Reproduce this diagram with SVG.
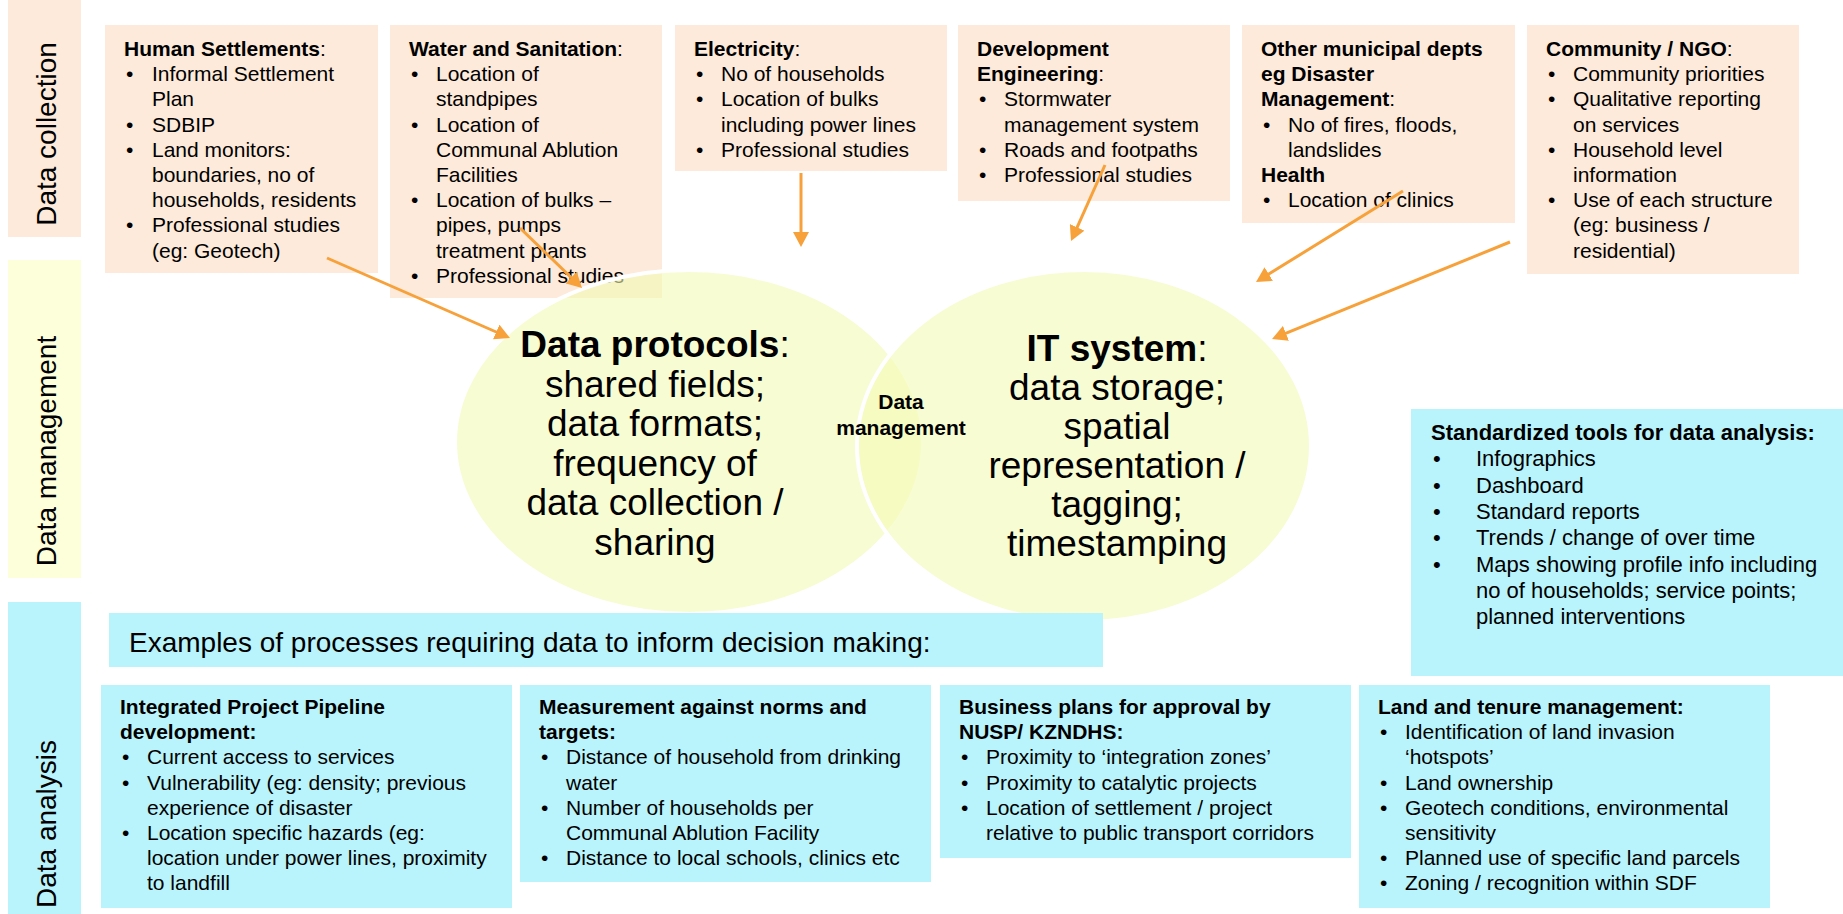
<svg xmlns="http://www.w3.org/2000/svg" width="1843" height="914" viewBox="0 0 1843 914">
  <defs>
    <style>
      text { font-family: "Liberation Sans", Arial, Helvetica, sans-serif; fill: #000; }
      .t { font-size: 21px; }
      .ts { font-size: 22px; }
      .b { font-weight: bold; }
      .side { font-size: 28px; text-anchor: middle; }
      .big { font-size: 37px; text-anchor: middle; }
      .peach { fill: #FDEADA; }
      .cyan { fill: #B9F4FC; }
      .band-yellow { fill: #FDFEDA; }
      .bubble { fill: #F4FAB5; fill-opacity: 0.6; stroke: #FFFFFF; stroke-width: 4; }
      .flow { fill: none; stroke: #F7A13A; stroke-width: 3; marker-end: url(#arrow); }
    </style>
    <marker id="arrow" markerUnits="userSpaceOnUse" markerWidth="16" markerHeight="16" refX="5" refY="8" orient="auto">
      <path d="M0,0 L15,8 L0,16 Z" fill="#F7A13A"/>
    </marker>
  </defs>

  <rect width="1843" height="914" fill="#FFFFFF"/>

  <!-- Stage bands on the left -->
  <g id="band-collection">
    <rect class="peach" x="8" y="0" width="73" height="237"/>
    <text class="side" transform="translate(56,134) rotate(-90)">Data collection</text>
  </g>
  <g id="band-management">
    <rect class="band-yellow" x="8" y="260" width="73" height="318"/>
    <text class="side" transform="translate(56,451) rotate(-90)">Data management</text>
  </g>
  <g id="band-analysis">
    <rect class="cyan" x="8" y="602" width="73" height="312"/>
    <text class="side" transform="translate(56,824) rotate(-90)">Data analysis</text>
  </g>

  <!-- Data sources -->
  <g id="src-human-settlements" class="t">
    <rect class="peach" x="105" y="25" width="273" height="248"/>
    <text x="124" y="56"><tspan class="b">Human Settlements</tspan>:</text>
    <text x="126" y="81.2">•</text><text x="152" y="81.2">Informal Settlement</text>
    <text x="152" y="106.4">Plan</text>
    <text x="126" y="131.6">•</text><text x="152" y="131.6">SDBIP</text>
    <text x="126" y="156.8">•</text><text x="152" y="156.8">Land monitors:</text>
    <text x="152" y="182">boundaries, no of</text>
    <text x="152" y="207.2">households, residents</text>
    <text x="126" y="232.4">•</text><text x="152" y="232.4">Professional studies</text>
    <text x="152" y="257.6">(eg: Geotech)</text>
  </g>

  <g id="src-water-sanitation" class="t">
    <rect class="peach" x="390" y="25" width="272" height="273"/>
    <text x="409" y="56"><tspan class="b">Water and Sanitation</tspan>:</text>
    <text x="411" y="81.2">•</text><text x="436" y="81.2">Location of</text>
    <text x="436" y="106.4">standpipes</text>
    <text x="411" y="131.6">•</text><text x="436" y="131.6">Location of</text>
    <text x="436" y="156.8">Communal Ablution</text>
    <text x="436" y="182">Facilities</text>
    <text x="411" y="207.2">•</text><text x="436" y="207.2">Location of bulks –</text>
    <text x="436" y="232.4">pipes, pumps</text>
    <text x="436" y="257.6">treatment plants</text>
    <text x="411" y="282.8">•</text><text x="436" y="282.8">Professional studies</text>
  </g>

  <g id="src-electricity" class="t">
    <rect class="peach" x="675" y="25" width="272" height="146"/>
    <text x="694" y="56"><tspan class="b">Electricity</tspan>:</text>
    <text x="696" y="81.2">•</text><text x="721" y="81.2">No of households</text>
    <text x="696" y="106.4">•</text><text x="721" y="106.4">Location of bulks</text>
    <text x="721" y="131.6">including power lines</text>
    <text x="696" y="156.8">•</text><text x="721" y="156.8">Professional studies</text>
  </g>

  <g id="src-development-engineering" class="t">
    <rect class="peach" x="958" y="25" width="272" height="176"/>
    <text class="b" x="977" y="56">Development</text>
    <text x="977" y="81.2"><tspan class="b">Engineering</tspan>:</text>
    <text x="979" y="106.4">•</text><text x="1004" y="106.4">Stormwater</text>
    <text x="1004" y="131.6">management system</text>
    <text x="979" y="156.8">•</text><text x="1004" y="156.8">Roads and footpaths</text>
    <text x="979" y="182">•</text><text x="1004" y="182">Professional studies</text>
  </g>

  <g id="src-other-depts" class="t">
    <rect class="peach" x="1242" y="25" width="273" height="198"/>
    <text class="b" x="1261" y="56">Other municipal depts</text>
    <text class="b" x="1261" y="81.2">eg Disaster</text>
    <text x="1261" y="106.4"><tspan class="b">Management</tspan>:</text>
    <text x="1263" y="131.6">•</text><text x="1288" y="131.6">No of fires, floods,</text>
    <text x="1288" y="156.8">landslides</text>
    <text class="b" x="1261" y="182">Health</text>
    <text x="1263" y="207.2">•</text><text x="1288" y="207.2">Location of clinics</text>
  </g>

  <g id="src-community" class="t">
    <rect class="peach" x="1527" y="25" width="272" height="249"/>
    <text x="1546" y="56"><tspan class="b">Community / NGO</tspan>:</text>
    <text x="1548" y="81.2">•</text><text x="1573" y="81.2">Community priorities</text>
    <text x="1548" y="106.4">•</text><text x="1573" y="106.4">Qualitative reporting</text>
    <text x="1573" y="131.6">on services</text>
    <text x="1548" y="156.8">•</text><text x="1573" y="156.8">Household level</text>
    <text x="1573" y="182">information</text>
    <text x="1548" y="207.2">•</text><text x="1573" y="207.2">Use of each structure</text>
    <text x="1573" y="232.4">(eg: business /</text>
    <text x="1573" y="257.6">residential)</text>
  </g>

  <!-- Data management bubbles -->
  <g id="data-protocols">
    <ellipse class="bubble" cx="689" cy="442" rx="234" ry="172"/>
  </g>
  <g id="it-system">
    <ellipse class="bubble" cx="1084" cy="446" rx="227" ry="176"/>
  </g>
  <g id="data-protocols-text" class="big">
    <text x="655" y="357"><tspan class="b">Data protocols</tspan>:</text>
    <text x="655" y="396.5">shared fields;</text>
    <text x="655" y="436">data formats;</text>
    <text x="655" y="475.5">frequency of</text>
    <text x="655" y="515">data collection /</text>
    <text x="655" y="554.5">sharing</text>
  </g>
  <g id="it-system-text" class="big">
    <text x="1117" y="361"><tspan class="b">IT system</tspan>:</text>
    <text x="1117" y="400">data storage;</text>
    <text x="1117" y="439">spatial</text>
    <text x="1117" y="478">representation /</text>
    <text x="1117" y="517">tagging;</text>
    <text x="1117" y="556">timestamping</text>
  </g>
  <g id="overlap-label" class="t b" text-anchor="middle">
    <text x="901" y="409">Data</text>
    <text x="901" y="435">management</text>
  </g>

  <!-- Standard analysis tools -->
  <g id="analysis-tools" class="ts">
    <rect class="cyan" x="1411" y="409" width="432" height="267"/>
    <text class="b" x="1431" y="440">Standardized tools for data analysis:</text>
    <text x="1433" y="466.3">•</text><text x="1476" y="466.3">Infographics</text>
    <text x="1433" y="492.6">•</text><text x="1476" y="492.6">Dashboard</text>
    <text x="1433" y="518.9">•</text><text x="1476" y="518.9">Standard reports</text>
    <text x="1433" y="545.2">•</text><text x="1476" y="545.2">Trends / change of over time</text>
    <text x="1433" y="571.5">•</text><text x="1476" y="571.5">Maps showing profile info including</text>
    <text x="1476" y="597.8">no of households; service points;</text>
    <text x="1476" y="624.1">planned interventions</text>
  </g>

  <!-- Decision-making processes -->
  <g id="examples-banner">
    <rect class="cyan" x="109" y="613" width="994" height="54"/>
    <text x="129" y="652" font-size="28">Examples of processes requiring data to inform decision making:</text>
  </g>

  <g id="proc-pipeline" class="t">
    <rect class="cyan" x="101" y="685" width="411" height="223"/>
    <text class="b" x="120" y="714">Integrated Project Pipeline</text>
    <text class="b" x="120" y="739.2">development:</text>
    <text x="122" y="764.4">•</text><text x="147" y="764.4">Current access to services</text>
    <text x="122" y="789.6">•</text><text x="147" y="789.6">Vulnerability (eg: density; previous</text>
    <text x="147" y="814.8">experience of disaster</text>
    <text x="122" y="840">•</text><text x="147" y="840">Location specific hazards (eg:</text>
    <text x="147" y="865.2">location under power lines, proximity</text>
    <text x="147" y="890.4">to landfill</text>
  </g>

  <g id="proc-norms" class="t">
    <rect class="cyan" x="520" y="685" width="411" height="197"/>
    <text class="b" x="539" y="714">Measurement against norms and</text>
    <text class="b" x="539" y="739.2">targets:</text>
    <text x="541" y="764.4">•</text><text x="566" y="764.4">Distance of household from drinking</text>
    <text x="566" y="789.6">water</text>
    <text x="541" y="814.8">•</text><text x="566" y="814.8">Number of households per</text>
    <text x="566" y="840">Communal Ablution Facility</text>
    <text x="541" y="865.2">•</text><text x="566" y="865.2">Distance to local schools, clinics etc</text>
  </g>

  <g id="proc-business-plans" class="t">
    <rect class="cyan" x="940" y="685" width="411" height="173"/>
    <text class="b" x="959" y="714">Business plans for approval by</text>
    <text class="b" x="959" y="739.2">NUSP/ KZNDHS:</text>
    <text x="961" y="764.4">•</text><text x="986" y="764.4">Proximity to ‘integration zones’</text>
    <text x="961" y="789.6">•</text><text x="986" y="789.6">Proximity to catalytic projects</text>
    <text x="961" y="814.8">•</text><text x="986" y="814.8">Location of settlement / project</text>
    <text x="986" y="840">relative to public transport corridors</text>
  </g>

  <g id="proc-land-tenure" class="t">
    <rect class="cyan" x="1359" y="685" width="411" height="223"/>
    <text class="b" x="1378" y="714">Land and tenure management:</text>
    <text x="1380" y="739.2">•</text><text x="1405" y="739.2">Identification of land invasion</text>
    <text x="1405" y="764.4">‘hotspots’</text>
    <text x="1380" y="789.6">•</text><text x="1405" y="789.6">Land ownership</text>
    <text x="1380" y="814.8">•</text><text x="1405" y="814.8">Geotech conditions, environmental</text>
    <text x="1405" y="840">sensitivity</text>
    <text x="1380" y="865.2">•</text><text x="1405" y="865.2">Planned use of specific land parcels</text>
    <text x="1380" y="890.4">•</text><text x="1405" y="890.4">Zoning / recognition within SDF</text>
  </g>

  <!-- Connectors: sources feeding the data management bubbles -->
  <g id="connectors">
    <line class="flow" x1="327" y1="258" x2="500.8" y2="334"/>
    <line class="flow" x1="520" y1="228" x2="574.8" y2="281"/>
    <line class="flow" x1="801" y1="173" x2="801" y2="237"/>
    <line class="flow" x1="1105" y1="165" x2="1075.1" y2="231.9"/>
    <line class="flow" x1="1403" y1="191" x2="1264.5" y2="276.7"/>
    <line class="flow" x1="1510" y1="242" x2="1281.3" y2="335.2"/>
  </g>
</svg>
